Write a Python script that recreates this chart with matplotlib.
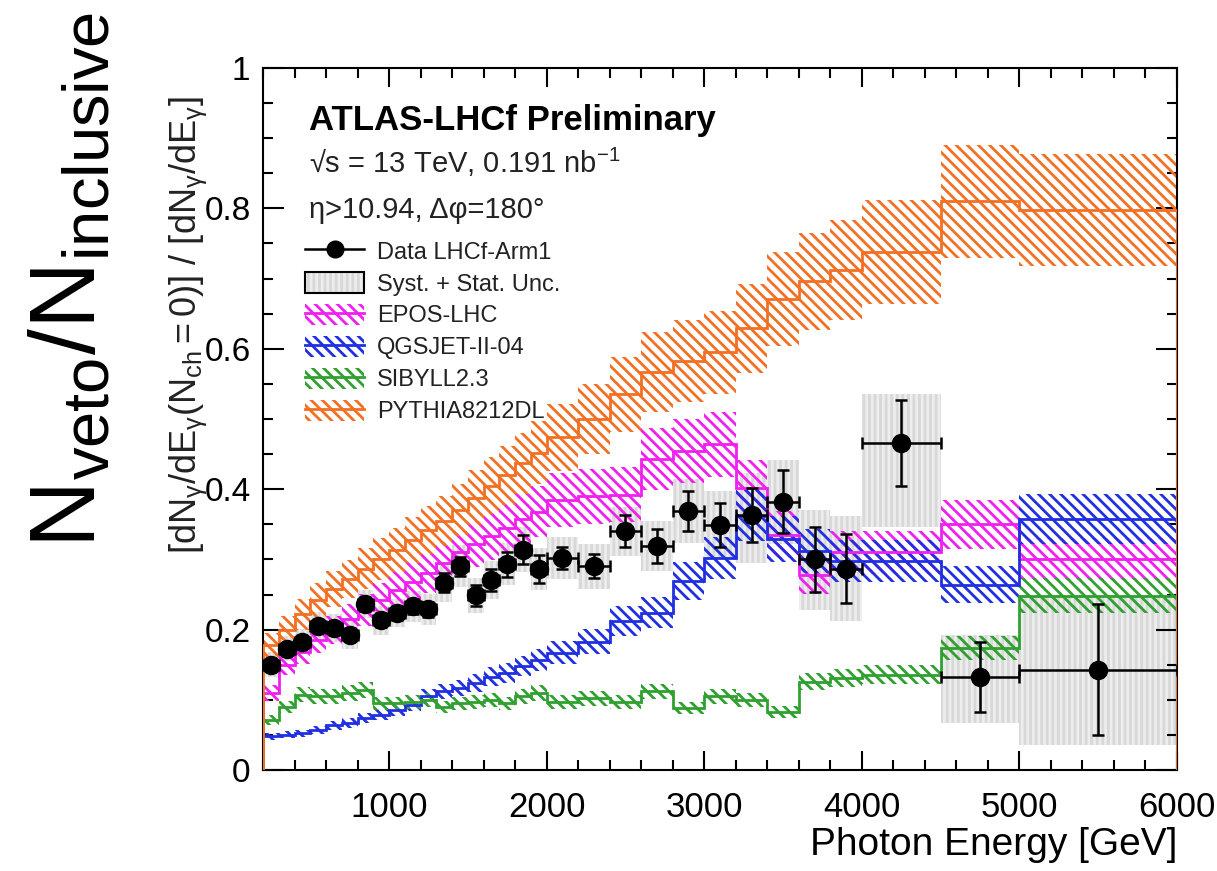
import numpy as np
import matplotlib
matplotlib.use('Agg')
import matplotlib.pyplot as plt
from matplotlib.patches import Patch
from matplotlib.lines import Line2D
from matplotlib.ticker import MultipleLocator, FixedLocator, FixedFormatter

plt.rcParams['font.family'] = ['Liberation Sans', 'DejaVu Sans']
plt.rcParams['mathtext.fontset'] = 'custom'
plt.rcParams['mathtext.rm'] = 'Liberation Sans'
plt.rcParams['mathtext.it'] = 'Liberation Sans:italic'
plt.rcParams['mathtext.bf'] = 'Liberation Sans:bold'
plt.rcParams['hatch.linewidth'] = 2.0

HATCH = '\\\\\\'

# bin edges [GeV]
edges = [200, 300, 400, 500, 600, 700, 800, 900, 1000, 1100, 1200, 1300, 1400,
         1500, 1600, 1700, 1800, 1900, 2000, 2200, 2400, 2600, 2800, 3000, 3200,
         3400, 3600, 3800, 4000, 4500, 5000, 6000]

# data LHCf-Arm1
data_val = [0.150, 0.173, 0.183, 0.205, 0.202, 0.193, 0.237, 0.213, 0.224, 0.233,
            0.229, 0.267, 0.290, 0.249, 0.271, 0.293, 0.314, 0.286,
            0.302, 0.290, 0.340, 0.319, 0.369, 0.349, 0.363, 0.382, 0.300, 0.287,
            0.466, 0.133, 0.143]
data_stat = [0.008, 0.008, 0.008, 0.009, 0.009, 0.009, 0.010, 0.010, 0.010, 0.011,
             0.011, 0.013, 0.014, 0.015, 0.016, 0.018, 0.021, 0.020,
             0.016, 0.017, 0.023, 0.024, 0.029, 0.032, 0.038, 0.045, 0.046, 0.049,
             0.061, 0.050, 0.093]
syst_dn = [0.018, 0.018, 0.018, 0.020, 0.020, 0.020, 0.020, 0.020, 0.020, 0.022,
           0.022, 0.028, 0.030, 0.025, 0.027, 0.030, 0.032, 0.030,
           0.030, 0.032, 0.035, 0.035, 0.045, 0.048, 0.068, 0.060, 0.072, 0.075,
           0.120, 0.066, 0.107]
syst_up = [0.018, 0.018, 0.018, 0.020, 0.020, 0.020, 0.020, 0.020, 0.020, 0.022,
           0.022, 0.028, 0.030, 0.025, 0.027, 0.030, 0.032, 0.030,
           0.030, 0.032, 0.035, 0.035, 0.045, 0.048, 0.060, 0.060, 0.070, 0.075,
           0.070, 0.060, 0.107]

# models
epos = [0.110, 0.150, 0.168, 0.185, 0.200, 0.215, 0.228, 0.242, 0.256, 0.268,
        0.280, 0.295, 0.310, 0.322, 0.333, 0.345, 0.358, 0.368,
        0.385, 0.390, 0.392, 0.443, 0.454, 0.464, 0.402, 0.335, 0.278, 0.310,
        0.310, 0.350, 0.300]
qgsjet = [0.048, 0.050, 0.052, 0.057, 0.064, 0.067, 0.074, 0.079, 0.086, 0.093,
          0.105, 0.112, 0.117, 0.124, 0.133, 0.138, 0.148, 0.157,
          0.167, 0.183, 0.212, 0.224, 0.269, 0.302, 0.362, 0.329, 0.312, 0.298,
          0.298, 0.264, 0.358]
sibyll = [0.071, 0.090, 0.107, 0.105, 0.105, 0.110, 0.114, 0.095, 0.095, 0.097,
          0.100, 0.090, 0.095, 0.097, 0.100, 0.095, 0.105, 0.110,
          0.097, 0.102, 0.097, 0.112, 0.088, 0.105, 0.100, 0.083, 0.126, 0.131,
          0.136, 0.174, 0.248]
pythia = [0.178, 0.200, 0.222, 0.242, 0.258, 0.272, 0.287, 0.300, 0.313, 0.327,
          0.342, 0.355, 0.370, 0.388, 0.405, 0.420, 0.437, 0.452,
          0.474, 0.500, 0.535, 0.567, 0.583, 0.595, 0.629, 0.671, 0.696, 0.712,
          0.738, 0.810, 0.798]
model_rel_unc = [0.10, 0.10, 0.10, 0.10]

model_names = ['EPOS-LHC', 'QGSJET-II-04', 'SIBYLL2.3', 'PYTHIA8212DL']
model_colors = ['#f020f0', '#2030e0', '#30a030', '#f27024']
models = [epos, qgsjet, sibyll, pythia]

fig = plt.figure(figsize=(12.17, 8.71), dpi=100)
ax = fig.add_axes([263/1217, 1-770/871, 914/1217, 702/871])

e = np.array(edges, float)
centers = 0.5*(e[:-1] + e[1:])
widths = e[1:] - e[:-1]
val = np.array(data_val)
sdn = np.array(syst_dn)
sup = np.array(syst_up)

# syst + stat boxes
ax.bar(centers, sdn + sup, bottom=val - sdn, width=widths, color='#ededed',
       edgecolor='#d8d8d8', hatch='|||', linewidth=0, zorder=1)

# model bands and lines
for vals, col, rel in zip(models, model_colors, model_rel_unc):
    v = np.array(vals)
    ax.bar(centers, 2*rel*v, bottom=v*(1-rel), width=widths, fill=False,
           edgecolor=col, hatch=HATCH, linewidth=0, zorder=2)
    ax.stairs(v, e, color=col, lw=2.0, zorder=3)

ax.errorbar(centers, val, xerr=widths/2, yerr=data_stat, fmt='o', color='k',
            ms=13, elinewidth=1.8, capsize=4, capthick=1.8, zorder=5)

ax.set_xlim(200, 6000)
ax.set_ylim(0, 1)
ax.xaxis.set_major_locator(MultipleLocator(1000))
ax.xaxis.set_minor_locator(MultipleLocator(200))
ax.yaxis.set_major_locator(FixedLocator([0, 0.2, 0.4, 0.6, 0.8, 1.0]))
ax.yaxis.set_major_formatter(FixedFormatter(['0', '0.2', '0.4', '0.6', '0.8', '1']))
ax.yaxis.set_minor_locator(MultipleLocator(0.05))
ax.tick_params(which='both', direction='in', top=True, right=True, width=1.5)
ax.tick_params(axis='x', which='major', length=14, pad=15, labelsize=25)
ax.tick_params(axis='x', which='minor', length=7)
ax.tick_params(axis='y', which='major', length=15, pad=9, labelsize=24)
ax.tick_params(axis='y', which='minor', length=7.5)
for s in ax.spines.values():
    s.set_linewidth(1.5)

fig.text(1177/1217, 1-845/871, 'Photon Energy [GeV]', ha='right', va='center',
         fontsize=28)
fig.text(188/1217, 1-325/871,
         r'$\mathrm{[dN_{\gamma}/dE_{\gamma}(N_{ch}=0)]\ /\ [dN_{\gamma}/dE_{\gamma}]}$',
         rotation=90, ha='center', va='center', fontsize=26, color='#222222')
fig.text(72/1217, 1-280/871, r'$\mathrm{N_{veto}/N_{inclusive}}$', rotation=90,
         ha='center', va='center', fontsize=67)

ax.text(0.050, 0.912, 'ATLAS-LHCf Preliminary', transform=ax.transAxes,
        fontsize=25, fontweight='bold', va='baseline', ha='left')
ax.text(0.050, 0.850, '√s = 13 TeV, 0.191 nb$^{\\mathrm{-1}}$', transform=ax.transAxes,
        fontsize=21, va='baseline', ha='left', color='#222222')
ax.text(0.050, 0.786, 'η>10.94, Δφ=180°', transform=ax.transAxes,
        fontsize=21, va='baseline', ha='left', color='#222222')

handles = [Line2D([], [], color='k', marker='o', ms=12, lw=1.8),
           (Patch(facecolor='#ededed', edgecolor='#d8d8d8', hatch='|||', lw=0),
            Patch(facecolor='none', edgecolor='k', lw=1.5))]
for col in model_colors:
    handles.append((Patch(facecolor='none', edgecolor=col, hatch=HATCH, lw=0),
                    Line2D([], [], color=col, lw=2.0)))
labels = ['Data LHCf-Arm1', 'Syst. + Stat. Unc.'] + model_names
leg = ax.legend(handles, labels, loc='upper left', bbox_to_anchor=(0.046, 0.755),
                frameon=False, fontsize=17, handlelength=2.5, handleheight=1.0,
                labelspacing=0.35, handletextpad=0.55, borderpad=0, borderaxespad=0)
for t in leg.get_texts():
    t.set_color('#222222')

fig.savefig('out.png', dpi=100)
